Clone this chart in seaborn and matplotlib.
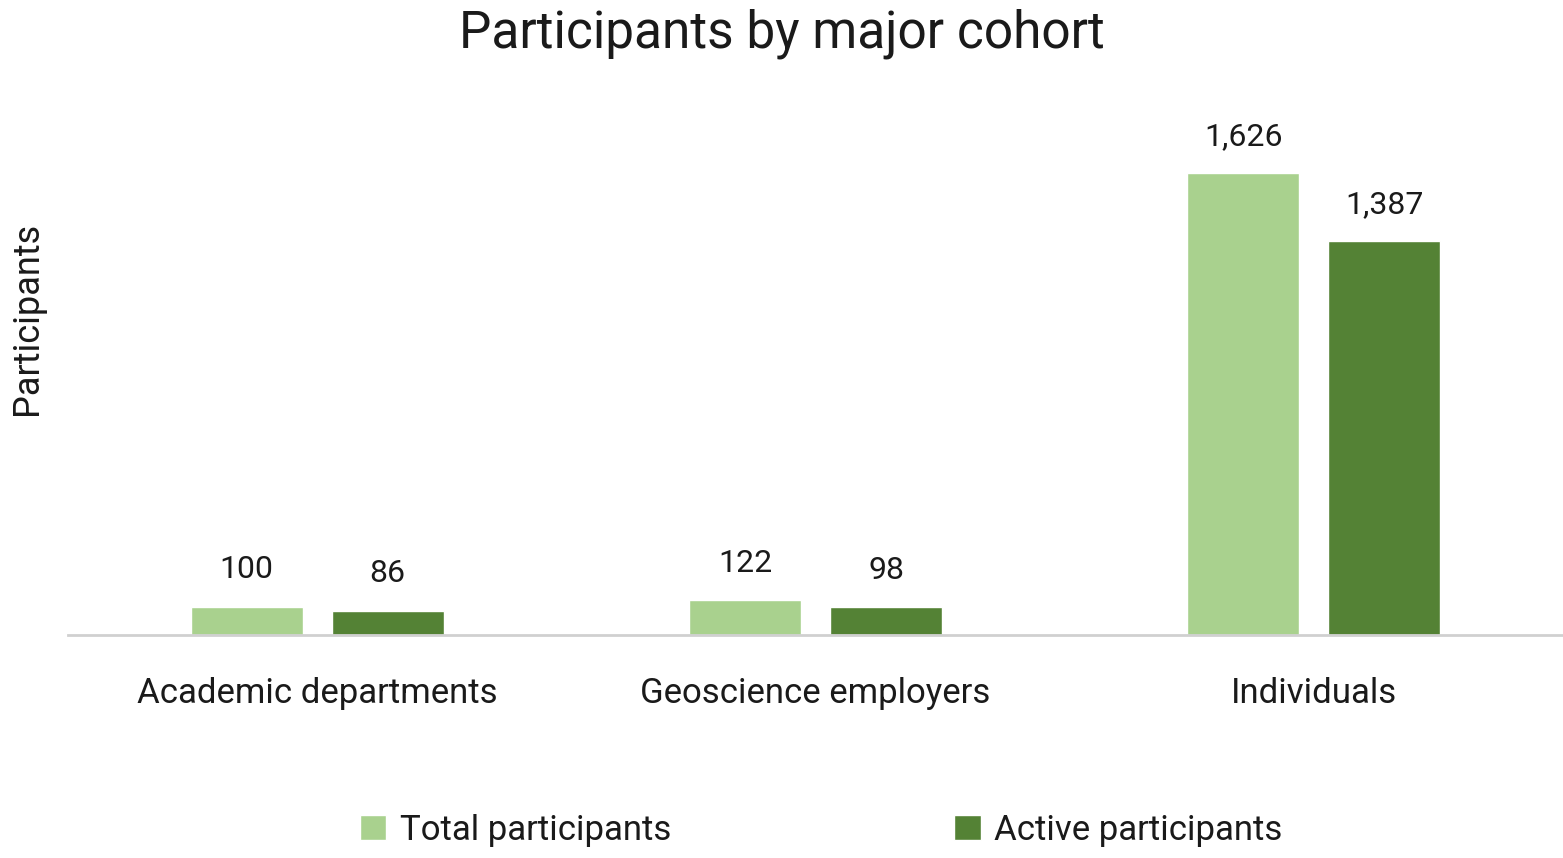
import pandas as pd
import matplotlib
matplotlib.use("Agg")
import matplotlib.pyplot as plt
import seaborn as sns

cohorts = ["Academic departments", "Geoscience employers", "Individuals"]
total_participants = [100, 122, 1626]
active_participants = [86, 98, 1387]
series_names = ["Total participants", "Active participants"]
colors = ["#A9D18E", "#548235"]

df = pd.DataFrame({
    "cohort": cohorts * 2,
    "value": total_participants + active_participants,
    "series": [series_names[0]] * 3 + [series_names[1]] * 3,
})

sns.set_theme(style="white")
plt.rcParams["font.family"] = ["Roboto", "DejaVu Sans"]

fig = plt.figure(figsize=(15.63, 8.58), dpi=100)
ax = fig.add_axes([0.0435, 0.26, 0.9565, 0.5956])

sns.barplot(data=df, x="cohort", y="value", hue="series", order=cohorts,
            hue_order=series_names, palette=colors, saturation=1,
            width=0.566, gap=0.205, ax=ax, legend=True)

for cont in ax.containers:
    ax.bar_label(cont, labels=[f"{v:,.0f}" for v in cont.datavalues],
                 padding=16, fontsize=23, color="#1a1a1a")

ax.set_xlim(-0.5, 2.5)
ax.set_ylim(0, 1800)
ax.set_yticks([])
ax.set_xlabel("")
ax.set_ylabel("Participants", fontsize=26, color="#1a1a1a")
ax.yaxis.set_label_coords(-0.0155, 0.62)
ax.tick_params(axis="x", labelsize=25, colors="#1a1a1a", pad=30, length=0)
for s in ["top", "right", "left"]:
    ax.spines[s].set_visible(False)
ax.spines["bottom"].set_color("#D0D0D0")
ax.spines["bottom"].set_linewidth(2)

fig.suptitle("Participants by major cohort", fontsize=37, color="#1a1a1a", y=0.99)

ax.legend(loc="center", bbox_to_anchor=(0.504, -0.382), ncol=2, frameon=False,
          fontsize=25, handlelength=0.75, handleheight=0.75, handletextpad=0.4,
          columnspacing=8.15, labelcolor="#1a1a1a")

fig.savefig("out.png", dpi=100, facecolor="white")
